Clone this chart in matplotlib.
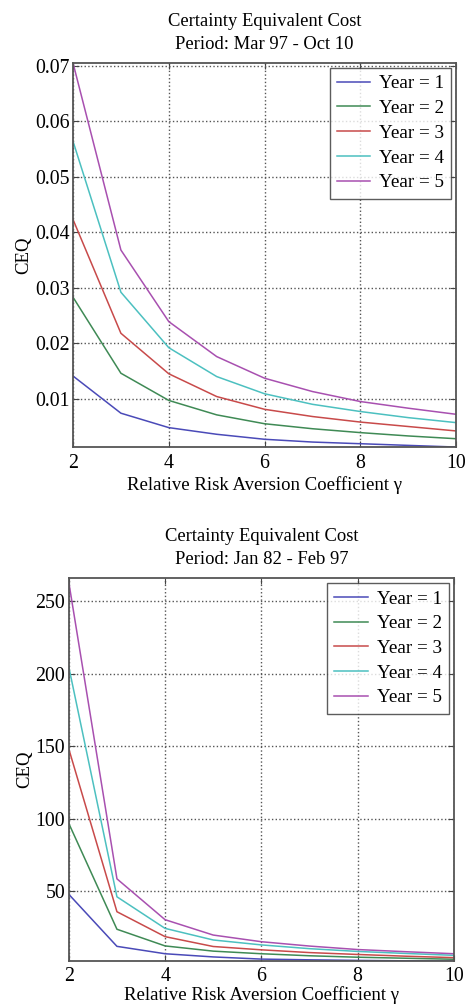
import matplotlib
matplotlib.use("Agg")
import matplotlib.pyplot as plt

plt.rcParams['font.family'] = ['Liberation Serif', 'DejaVu Serif']

gamma = [2, 3, 4, 5, 6, 7, 8, 9, 10]
labels = ['Year = 1', 'Year = 2', 'Year = 3', 'Year = 4', 'Year = 5']

# Period: Mar 97 - Oct 10
ceq_a = [
    [0.0141, 0.0074, 0.0048, 0.0036, 0.0027, 0.0022, 0.0019, 0.0016, 0.0013],
    [0.0283, 0.0146, 0.0097, 0.0071, 0.0055, 0.0046, 0.0039, 0.0033, 0.0028],
    [0.0423, 0.0218, 0.0145, 0.0104, 0.0081, 0.0068, 0.0058, 0.0050, 0.0042],
    [0.0564, 0.0292, 0.0192, 0.0140, 0.0109, 0.0090, 0.0077, 0.0066, 0.0057],
    [0.0705, 0.0368, 0.0239, 0.0176, 0.0137, 0.0113, 0.0095, 0.0083, 0.0072],
]

# Period: Jan 82 - Feb 97
ceq_b = [
    [47.7, 11.8, 6.7, 4.5, 3.0, 2.5, 2.1, 1.8, 1.6],
    [96.6, 23.6, 12.1, 8.5, 6.7, 5.3, 4.3, 3.6, 2.9],
    [148.0, 35.7, 18.5, 11.7, 9.4, 7.5, 6.2, 5.0, 4.0],
    [204.6, 46.0, 24.2, 16.2, 12.8, 10.2, 8.3, 6.9, 5.6],
    [263.0, 58.4, 30.2, 19.6, 15.0, 12.0, 9.6, 8.1, 6.7],
]

colors = ['#4a4ab8', '#3f8a55', '#c84a4a', '#4cc0c0', '#a850b0']


def draw(ax, data, period, yticks, yticklabels, ylim, xpad=5, lpad=2):
    for vals, lab, c in zip(data, labels, colors):
        ax.plot(gamma, vals, color=c, lw=1.1, label=lab)
    ax.set_xlim(2, 10)
    ax.set_ylim(*ylim)
    ax.set_xticks([2, 4, 6, 8, 10])
    ax.set_yticks(yticks)
    ax.set_yticklabels(yticklabels)
    ax.grid(True, linestyle=':', color='#555555', lw=1.0)
    ax.tick_params(direction='in', top=True, right=True, labelsize=14.3,
                   length=4, color='#444444', pad=2.5)
    ax.tick_params(axis='x', pad=xpad)
    for s in ax.spines.values():
        s.set_color('#555555')
        s.set_linewidth(1.3)
    ax.set_title('Certainty Equivalent Cost\nPeriod: ' + period,
                 fontsize=13.4, linespacing=1.45, pad=10)
    ax.set_xlabel('Relative Risk Aversion Coefficient γ', fontsize=13.5,
                  labelpad=lpad)
    ax.set_ylabel('CEQ', fontsize=13.5, labelpad=2)
    leg = ax.legend(loc='upper right', fontsize=13.8, fancybox=False,
                    edgecolor='#333333', borderaxespad=0.25, handlelength=1.75,
                    handletextpad=0.45, labelspacing=0.38, borderpad=0.38)
    leg.get_frame().set_linewidth(1.0)


fig = plt.figure(figsize=(4.65, 10.08), dpi=100)
ax1 = fig.add_axes([0.157, 0.5565, 0.824, 0.381])
ax2 = fig.add_axes([0.148, 0.0465, 0.828, 0.380])

draw(ax1, ceq_a, 'Mar 97 - Oct 10',
     [0.01, 0.02, 0.03, 0.04, 0.05, 0.06, 0.07],
     ['0.01', '0.02', '0.03', '0.04', '0.05', '0.06', '0.07'],
     (0.0013, 0.0705))
draw(ax2, ceq_b, 'Jan 82 - Feb 97',
     [50, 100, 150, 200, 250],
     ['50', '100', '150', '200', '250'],
     (1.6, 266), xpad=4, lpad=0)

fig.savefig('out.png', dpi=100)
